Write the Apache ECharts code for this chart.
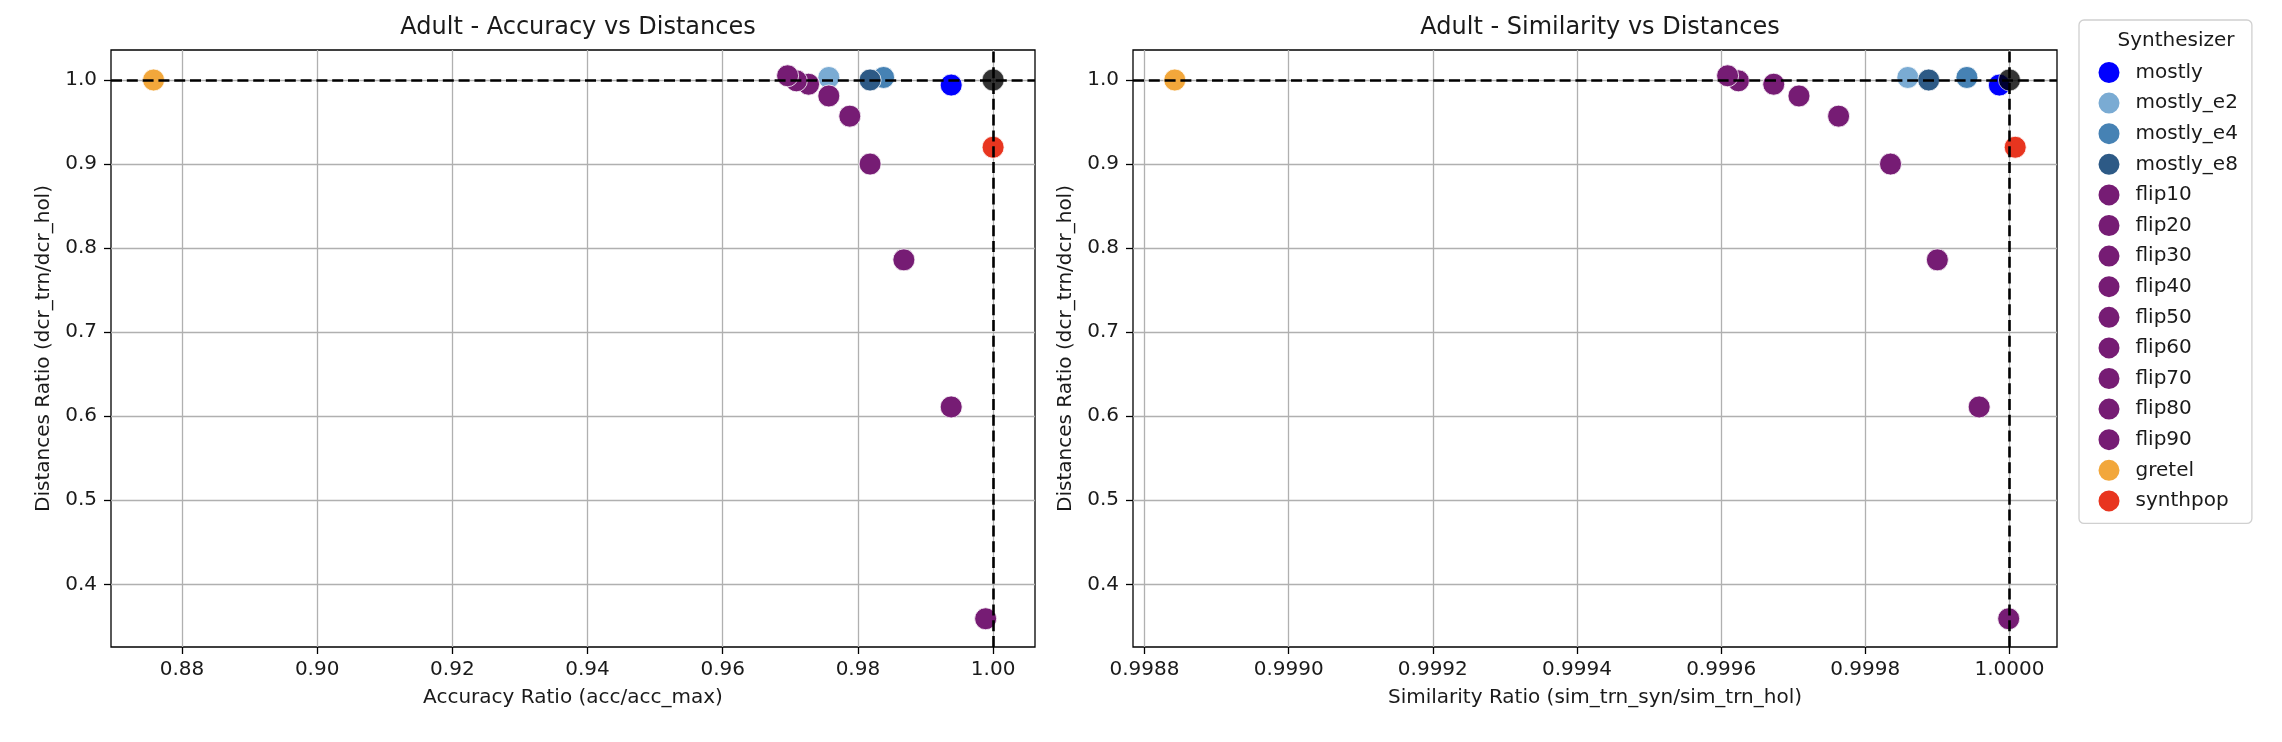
<!DOCTYPE html>
<html>
<head>
<meta charset="utf-8">
<script src="https://cdn.jsdelivr.net/npm/echarts@6/dist/echarts.min.js"></script>
<style>
html,body{margin:0;padding:0;background:#fff;}
#chart{width:2282px;height:742px;}
</style>
</head>
<body>
<div id="chart"></div>
<script>
// synthesizer names, in plotting order
var synthNames = ['mostly','mostly_e2','mostly_e4','mostly_e8','flip10','flip20','flip30','flip40','flip50','flip60','flip70','flip80','flip90','gretel','synthpop'];
// accuracy ratio (acc/acc_max)
var accRatio = [0.9938,0.9757,0.9838,0.9818,0.9989,0.9938,0.9868,0.9818,0.9788,0.9757,0.9727,0.9709,0.9696,0.8758,1.0000];
// similarity ratio (sim_trn_syn/sim_trn_hol)
var simRatio = [0.999986,0.999859,0.999941,0.999888,0.999999,0.999958,0.999900,0.999835,0.999763,0.999708,0.999673,0.999624,0.999609,0.998842,1.000008];
// distances ratio (dcr_trn/dcr_hol)
var distRatio = [0.994,1.003,1.003,1.000,0.359,0.611,0.786,0.900,0.957,0.981,0.995,0.999,1.005,1.000,0.920];
// reference point (real data)
var refPoint = [1.0, 1.0];

// tick labels
var accTicks = [0.88,0.90,0.92,0.94,0.96,0.98,1.00];
var simTicks = [0.9988,0.9990,0.9992,0.9994,0.9996,0.9998,1.0000];
var distTicks = [0.4,0.5,0.6,0.7,0.8,0.9,1.0];

// colours
var colorMap = {
	'mostly':'#0000ff','mostly_e2':'#7aabd3','mostly_e4':'#4682b4','mostly_e8':'#2d5a86',
	'gretel':'#f2a73b','synthpop':'#e8351f'
};
var flipColor = '#761c74';
function colorOf(name){
	return colorMap[name] || flipColor;
}

var FONT = 'DejaVu Sans';
var TXT = '#1a1a1a';

function xAxisOf(idx, min, max, ticks, digits, title){
	return {
		type:'value', gridIndex:idx, min:min, max:max,
		name:title, nameLocation:'middle', nameGap:41,
		nameTextStyle:{fontFamily:FONT,fontSize:20,color:TXT},
		axisLine:{show:false},
		axisTick:{show:true,length:7,lineStyle:{color:'#000',width:1.3},customValues:ticks},
		axisLabel:{fontFamily:FONT,fontSize:20,color:TXT,margin:13,customValues:ticks,
			formatter:function(v){return v.toFixed(digits);}},
		splitLine:{show:true,lineStyle:{color:'#b0b0b0',width:1.3}}
	};
}
function yAxisOf(idx){
	return {
		type:'value', gridIndex:idx, min:0.3254, max:1.0357,
		name:'Distances Ratio (dcr_trn/dcr_hol)', nameLocation:'middle', nameGap:57, nameRotate:90,
		nameTextStyle:{fontFamily:FONT,fontSize:20,color:TXT},
		axisLine:{show:false},
		axisTick:{show:true,length:7,lineStyle:{color:'#000',width:1.3},customValues:distTicks},
		axisLabel:{fontFamily:FONT,fontSize:20,color:TXT,margin:14,customValues:distTicks,
			formatter:function(v){return v.toFixed(1);}},
		splitLine:{show:true,lineStyle:{color:'#b0b0b0',width:1.3}}
	};
}

var series = [];
for(var g=0; g<2; g++){
	var xs = g==0 ? accRatio : simRatio;
	for(var i=0; i<synthNames.length; i++){
		series.push({
			name:synthNames[i], type:'scatter', xAxisIndex:g, yAxisIndex:g,
			symbol:'circle', symbolSize:22,
			itemStyle:{color:colorOf(synthNames[i]),opacity:1,borderColor:'#fff',borderWidth:0.8},
			emphasis:{disabled:true},
			data:[[xs[i], distRatio[i]]]
		});
	}
	// reference point, not in legend
	series.push({
		name:'reference', type:'scatter', xAxisIndex:g, yAxisIndex:g,
		symbol:'circle', symbolSize:22,
		itemStyle:{color:'#000',borderColor:'#fff',borderWidth:0.8},
		data:[refPoint]
	});
	// dashed lines at 1.0
	series.push({
		name:'ref_lines', type:'line', xAxisIndex:g, yAxisIndex:g, data:[], symbol:'none',
		markLine:{
			silent:true, symbol:['none','none'], label:{show:false},
			lineStyle:{color:'#000',width:2.6,type:[11,4.8]},
			emphasis:{disabled:true},
			data:[{yAxis:refPoint[1]},{xAxis:refPoint[0]}]
		}
	});
}

var chart = echarts.init(document.getElementById('chart'), null, {renderer:'canvas'});
var option = {
	backgroundColor:'#fff',
	animation:false,
	title:[
		{text:'Adult - Accuracy vs Distances',left:573,top:11,textAlign:'center',
			textStyle:{fontFamily:FONT,fontSize:24,fontWeight:'normal',color:TXT}},
		{text:'Adult - Similarity vs Distances',left:1595,top:11,textAlign:'center',
			textStyle:{fontFamily:FONT,fontSize:24,fontWeight:'normal',color:TXT}},
		{text:'Synthesizer',left:2171,top:26,textAlign:'center',z:10,
			textStyle:{fontFamily:FONT,fontSize:20,fontWeight:'normal',color:TXT}}
	],
	legend:{
		data:synthNames, orient:'vertical', left:2079, top:20,
		padding:[40,14,10,17.5], itemWidth:43, itemHeight:23, itemGap:5.6, icon:'circle',
		selectedMode:false,
		textStyle:{fontFamily:FONT,fontSize:20,lineHeight:20,color:TXT},
		borderColor:'#d0d0d0', borderWidth:1.3, borderRadius:5, backgroundColor:'#fff'
	},
	grid:[
		{left:111,top:50,width:924,height:597,show:true,borderColor:'#000',borderWidth:1.3,backgroundColor:'transparent'},
		{left:1133,top:50,width:924,height:597,show:true,borderColor:'#000',borderWidth:1.3,backgroundColor:'transparent'}
	],
	xAxis:[
		xAxisOf(0, 0.8695, 1.0062, accTicks, 2, 'Accuracy Ratio (acc/acc_max)'),
		xAxisOf(1, 0.998784, 1.000066, simTicks, 4, 'Similarity Ratio (sim_trn_syn/sim_trn_hol)')
	],
	yAxis:[yAxisOf(0), yAxisOf(1)],
	series:series
};
chart.setOption(option);
</script>
</body>
</html>
